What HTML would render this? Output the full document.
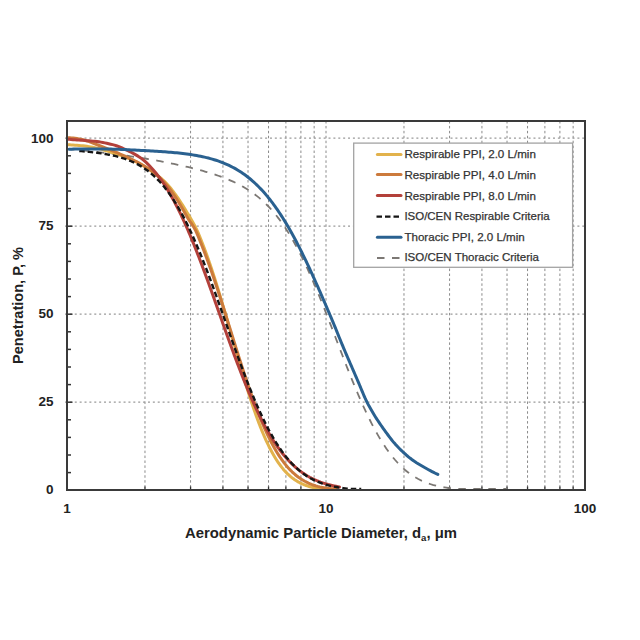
<!DOCTYPE html>
<html><head><meta charset="utf-8"><style>
html,body{margin:0;padding:0;background:#fff;}
svg{display:block;}
text{font-family:"Liberation Sans",sans-serif;}
</style></head><body>
<svg width="640" height="640" viewBox="0 0 640 640">
<rect width="640" height="640" fill="#fff"/>
<g stroke="#8a8a8a" stroke-width="1.0" stroke-dasharray="2.5 2.42" fill="none">
<line x1="144.97" y1="121" x2="144.97" y2="489" />
<line x1="190.57" y1="121" x2="190.57" y2="489" />
<line x1="222.93" y1="121" x2="222.93" y2="489" />
<line x1="248.03" y1="121" x2="248.03" y2="489" />
<line x1="268.54" y1="121" x2="268.54" y2="489" />
<line x1="285.88" y1="121" x2="285.88" y2="489" />
<line x1="300.90" y1="121" x2="300.90" y2="489" />
<line x1="314.15" y1="121" x2="314.15" y2="489" />
<line x1="326.00" y1="121" x2="326.00" y2="489" />
<line x1="403.97" y1="121" x2="403.97" y2="489" />
<line x1="449.57" y1="121" x2="449.57" y2="489" />
<line x1="481.93" y1="121" x2="481.93" y2="489" />
<line x1="507.03" y1="121" x2="507.03" y2="489" />
<line x1="527.54" y1="121" x2="527.54" y2="489" />
<line x1="544.88" y1="121" x2="544.88" y2="489" />
<line x1="559.90" y1="121" x2="559.90" y2="489" />
<line x1="573.15" y1="121" x2="573.15" y2="489" />
</g><g stroke="#999999" stroke-width="1.2" stroke-dasharray="2 2.88" fill="none">
<line x1="65" y1="402.20" x2="585" y2="402.20" />
<line x1="65" y1="314.20" x2="585" y2="314.20" />
<line x1="65" y1="226.20" x2="585" y2="226.20" />
<line x1="65" y1="138.20" x2="585" y2="138.20" />
</g>
<g stroke="#333" stroke-width="1.5">
<line x1="67" y1="472.60" x2="71" y2="472.60" />
<line x1="67" y1="455.00" x2="71" y2="455.00" />
<line x1="67" y1="437.40" x2="71" y2="437.40" />
<line x1="67" y1="419.80" x2="71" y2="419.80" />
<line x1="67" y1="402.20" x2="72.5" y2="402.20" />
<line x1="67" y1="384.60" x2="71" y2="384.60" />
<line x1="67" y1="367.00" x2="71" y2="367.00" />
<line x1="67" y1="349.40" x2="71" y2="349.40" />
<line x1="67" y1="331.80" x2="71" y2="331.80" />
<line x1="67" y1="314.20" x2="72.5" y2="314.20" />
<line x1="67" y1="296.60" x2="71" y2="296.60" />
<line x1="67" y1="279.00" x2="71" y2="279.00" />
<line x1="67" y1="261.40" x2="71" y2="261.40" />
<line x1="67" y1="243.80" x2="71" y2="243.80" />
<line x1="67" y1="226.20" x2="72.5" y2="226.20" />
<line x1="67" y1="208.60" x2="71" y2="208.60" />
<line x1="67" y1="191.00" x2="71" y2="191.00" />
<line x1="67" y1="173.40" x2="71" y2="173.40" />
<line x1="67" y1="155.80" x2="71" y2="155.80" />
<line x1="67" y1="138.20" x2="72.5" y2="138.20" />
<line x1="144.97" y1="490" x2="144.97" y2="486.5" stroke-width="1.3" />
<line x1="190.57" y1="490" x2="190.57" y2="486.5" stroke-width="1.3" />
<line x1="222.93" y1="490" x2="222.93" y2="486.5" stroke-width="1.3" />
<line x1="248.03" y1="490" x2="248.03" y2="486.5" stroke-width="1.3" />
<line x1="268.54" y1="490" x2="268.54" y2="486.5" stroke-width="1.3" />
<line x1="285.88" y1="490" x2="285.88" y2="486.5" stroke-width="1.3" />
<line x1="300.90" y1="490" x2="300.90" y2="486.5" stroke-width="1.3" />
<line x1="314.15" y1="490" x2="314.15" y2="486.5" stroke-width="1.3" />
<line x1="326.00" y1="490" x2="326.00" y2="486.5" stroke-width="1.3" />
<line x1="403.97" y1="490" x2="403.97" y2="486.5" stroke-width="1.3" />
<line x1="449.57" y1="490" x2="449.57" y2="486.5" stroke-width="1.3" />
<line x1="481.93" y1="490" x2="481.93" y2="486.5" stroke-width="1.3" />
<line x1="507.03" y1="490" x2="507.03" y2="486.5" stroke-width="1.3" />
<line x1="527.54" y1="490" x2="527.54" y2="486.5" stroke-width="1.3" />
<line x1="544.88" y1="490" x2="544.88" y2="486.5" stroke-width="1.3" />
<line x1="559.90" y1="490" x2="559.90" y2="486.5" stroke-width="1.3" />
<line x1="573.15" y1="490" x2="573.15" y2="486.5" stroke-width="1.3" />
</g>
<g fill="none" stroke-linecap="round" stroke-linejoin="round">
<path d="M67.00,148.97 L68.99,149.15 L70.98,149.32 L72.98,149.51 L74.97,149.69 L76.96,149.88 L78.95,150.07 L80.94,150.26 L82.93,150.46 L84.92,150.66 L86.91,150.86 L88.90,151.07 L90.89,151.28 L92.88,151.49 L94.87,151.71 L96.85,151.93 L98.84,152.15 L100.83,152.38 L102.81,152.61 L104.80,152.85 L106.79,153.09 L108.77,153.33 L110.76,153.58 L112.74,153.83 L114.72,154.08 L116.71,154.34 L118.69,154.61 L120.67,154.87 L122.65,155.15 L124.63,155.42 L126.61,155.70 L128.59,155.99 L130.57,156.28 L132.55,156.57 L134.53,156.87 L136.50,157.17 L138.48,157.48 L140.46,157.79 L142.43,158.11 L144.40,158.43 L146.38,158.76 L148.35,159.09 L150.32,159.43 L152.29,159.78 L154.26,160.13 L156.23,160.48 L158.20,160.84 L160.16,161.20 L162.13,161.57 L164.09,161.95 L166.06,162.33 L168.02,162.72 L169.98,163.12 L171.94,163.52 L173.90,163.93 L175.85,164.34 L177.81,164.76 L179.76,165.19 L181.71,165.62 L183.66,166.07 L185.61,166.52 L187.56,166.98 L189.50,167.44 L191.45,167.92 L193.39,168.40 L195.32,168.90 L197.26,169.40 L199.19,169.91 L201.12,170.44 L203.05,170.97 L204.97,171.52 L206.89,172.08 L208.81,172.65 L210.72,173.24 L212.63,173.84 L214.53,174.45 L216.43,175.09 L218.32,175.74 L220.21,176.41 L222.09,177.09 L223.96,177.80 L225.82,178.53 L227.67,179.28 L229.52,180.05 L231.35,180.84 L233.18,181.66 L234.99,182.51 L236.79,183.38 L238.57,184.28 L240.35,185.21 L242.10,186.17 L243.84,187.15 L245.56,188.17 L247.27,189.22 L248.95,190.30 L250.62,191.41 L252.26,192.54 L253.88,193.71 L255.49,194.91 L257.07,196.14 L258.62,197.39 L260.16,198.68 L261.66,199.99 L263.15,201.33 L264.61,202.70 L266.05,204.09 L267.46,205.50 L268.85,206.94 L270.22,208.40 L271.56,209.88 L272.88,211.38 L274.18,212.91 L275.46,214.44 L276.71,216.00 L277.94,217.58 L279.16,219.17 L280.35,220.77 L281.52,222.39 L282.68,224.02 L283.82,225.67 L284.93,227.33 L286.04,228.99 L287.12,230.68 L288.19,232.36 L289.24,234.06 L290.28,235.77 L291.31,237.49 L292.32,239.22 L293.32,240.95 L294.30,242.69 L295.27,244.44 L296.23,246.20 L297.18,247.95 L298.11,249.72 L299.04,251.49 L299.95,253.28 L300.86,255.06 L301.75,256.85 L302.65,258.64 L303.52,260.44 L304.39,262.24 L305.25,264.04 L306.10,265.85 L306.95,267.67 L307.78,269.48 L308.62,271.30 L309.44,273.12 L310.26,274.95 L311.07,276.78 L311.88,278.61 L312.67,280.44 L313.47,282.28 L314.25,284.11 L315.04,285.95 L315.82,287.80 L316.59,289.64 L317.36,291.49 L318.13,293.33 L318.89,295.18 L319.65,297.03 L320.40,298.89 L321.15,300.74 L321.90,302.60 L322.64,304.45 L323.39,306.31 L324.12,308.17 L324.86,310.03 L325.59,311.89 L326.33,313.75 L327.06,315.61 L327.78,317.47 L328.51,319.34 L329.23,321.20 L329.96,323.07 L330.68,324.93 L331.40,326.80 L332.12,328.66 L332.84,330.53 L333.56,332.40 L334.27,334.26 L334.99,336.13 L335.71,338.00 L336.42,339.86 L337.14,341.73 L337.86,343.60 L338.57,345.47 L339.29,347.33 L340.01,349.20 L340.73,351.07 L341.45,352.93 L342.17,354.80 L342.89,356.66 L343.61,358.53 L344.34,360.39 L345.06,362.25 L345.79,364.12 L346.52,365.98 L347.26,367.84 L347.99,369.70 L348.73,371.56 L349.47,373.42 L350.21,375.27 L350.96,377.13 L351.71,378.98 L352.46,380.84 L353.22,382.69 L353.98,384.54 L354.74,386.39 L355.51,388.23 L356.28,390.08 L357.06,391.92 L357.84,393.76 L358.64,395.60 L359.43,397.43 L360.23,399.27 L361.03,401.10 L361.84,402.93 L362.66,404.75 L363.49,406.57 L364.32,408.39 L365.16,410.21 L366.01,412.02 L366.86,413.82 L367.73,415.63 L368.60,417.43 L369.49,419.22 L370.38,421.01 L371.28,422.79 L372.20,424.57 L373.12,426.35 L374.06,428.11 L375.01,429.87 L375.97,431.63 L376.95,433.37 L377.93,435.11 L378.94,436.84 L379.95,438.56 L381.00,440.27 L382.04,441.98 L383.12,443.66 L384.20,445.34 L385.31,447.01 L386.44,448.66 L387.58,450.30 L388.75,451.92 L389.94,453.53 L391.15,455.12 L392.40,456.69 L393.66,458.23 L394.95,459.77 L396.27,461.27 L397.62,462.75 L398.99,464.20 L400.39,465.63 L401.83,467.02 L403.30,468.38 L404.79,469.70 L406.32,470.99 L407.88,472.24 L409.47,473.46 L411.10,474.62 L412.76,475.74 L414.44,476.81 L416.16,477.84 L417.90,478.82 L419.68,479.74 L421.47,480.62 L423.30,481.44 L425.14,482.22 L427.00,482.94 L428.89,483.62 L430.79,484.24 L432.70,484.82 L434.63,485.35 L436.57,485.84 L438.52,486.29 L440.47,486.70 L442.44,487.08 L444.41,487.42 L446.38,487.72 L448.37,488.00 L450.35,488.25 L452.34,488.48 L454.33,488.68 L456.32,488.86 L458.31,488.90 L460.31,488.90 L462.30,488.90 L464.30,488.90 L466.30,488.90 L468.30,488.90 L470.29,488.90 L472.29,488.90 L474.29,488.90 L476.29,488.90 L478.29,488.90 L480.29,488.90 L482.29,488.90 L484.29,488.90 L486.29,488.90 L488.29,488.90 L490.29,488.90 L492.29,488.90 L494.29,488.90 L496.29,488.90 L498.29,488.90 L500.29,488.90 L502.29,488.90 L504.29,488.90 L506.29,488.90" stroke="#7C7874" stroke-width="1.8" stroke-dasharray="7.5 7.5" stroke-linecap="butt"/>
<path d="M68.59,144.77 L69.79,144.83 L71.33,144.91 L73.11,145.01 L75.02,145.14 L76.99,145.29 L78.98,145.45 L80.97,145.63 L82.95,145.84 L84.94,146.07 L86.92,146.32 L88.90,146.61 L90.88,146.92 L92.84,147.27 L94.80,147.66 L96.75,148.10 L98.69,148.58 L100.62,149.10 L102.54,149.65 L104.45,150.23 L106.36,150.83 L108.27,151.43 L110.18,152.03 L112.09,152.62 L114.00,153.22 L115.91,153.81 L117.81,154.42 L119.71,155.04 L121.61,155.68 L123.49,156.34 L125.37,157.04 L127.23,157.77 L129.07,158.54 L130.90,159.34 L132.72,160.17 L134.52,161.04 L136.31,161.93 L138.09,162.85 L139.85,163.80 L141.59,164.77 L143.32,165.78 L145.03,166.82 L146.72,167.88 L148.39,168.97 L150.05,170.09 L151.70,171.22 L153.34,172.37 L154.96,173.54 L156.56,174.73 L158.14,175.95 L159.70,177.21 L161.23,178.49 L162.73,179.81 L164.19,181.17 L165.61,182.58 L166.99,184.02 L168.33,185.50 L169.64,187.01 L170.91,188.55 L172.16,190.11 L173.38,191.69 L174.58,193.29 L175.75,194.91 L176.91,196.54 L178.05,198.18 L179.16,199.84 L180.26,201.51 L181.35,203.20 L182.42,204.88 L183.48,206.58 L184.54,208.28 L185.59,209.98 L186.63,211.68 L187.66,213.40 L188.68,215.12 L189.70,216.84 L190.70,218.57 L191.69,220.31 L192.69,222.04 L193.67,223.78 L194.63,225.53 L195.56,227.30 L196.44,229.09 L197.28,230.90 L198.09,232.73 L198.87,234.57 L199.63,236.42 L200.39,238.27 L201.13,240.13 L201.87,241.99 L202.61,243.85 L203.33,245.71 L204.04,247.58 L204.75,249.45 L205.44,251.33 L206.13,253.20 L206.81,255.08 L207.49,256.97 L208.15,258.85 L208.82,260.74 L209.47,262.63 L210.12,264.52 L210.76,266.42 L211.39,268.31 L212.03,270.21 L212.65,272.11 L213.27,274.01 L213.89,275.92 L214.50,277.82 L215.10,279.73 L215.71,281.63 L216.31,283.54 L216.90,285.45 L217.49,287.36 L218.08,289.27 L218.66,291.19 L219.25,293.10 L219.82,295.01 L220.40,296.93 L220.97,298.84 L221.54,300.76 L222.11,302.68 L222.68,304.60 L223.24,306.52 L223.80,308.44 L224.36,310.36 L224.92,312.28 L225.48,314.20 L226.04,316.12 L226.59,318.04 L227.14,319.96 L227.69,321.88 L228.25,323.81 L228.80,325.73 L229.34,327.65 L229.89,329.58 L230.44,331.50 L230.99,333.42 L231.54,335.35 L232.09,337.27 L232.63,339.19 L233.18,341.12 L233.73,343.04 L234.28,344.96 L234.83,346.89 L235.38,348.81 L235.93,350.73 L236.48,352.65 L237.03,354.58 L237.59,356.50 L238.14,358.42 L238.70,360.34 L239.25,362.26 L239.81,364.18 L240.37,366.10 L240.94,368.02 L241.50,369.94 L242.07,371.86 L242.64,373.77 L243.21,375.69 L243.79,377.61 L244.36,379.52 L244.94,381.44 L245.53,383.35 L246.12,385.26 L246.71,387.17 L247.30,389.08 L247.90,390.99 L248.50,392.90 L249.11,394.80 L249.72,396.70 L250.34,398.61 L250.96,400.51 L251.59,402.41 L252.22,404.30 L252.86,406.20 L253.50,408.09 L254.16,409.98 L254.82,411.87 L255.48,413.76 L256.15,415.64 L256.84,417.52 L257.53,419.40 L258.22,421.27 L258.93,423.14 L259.65,425.01 L260.38,426.87 L261.12,428.73 L261.87,430.58 L262.63,432.43 L263.40,434.28 L264.19,436.11 L264.99,437.95 L265.81,439.77 L266.64,441.59 L267.49,443.40 L268.36,445.20 L269.24,446.99 L270.15,448.78 L271.08,450.55 L272.03,452.31 L273.00,454.06 L274.00,455.79 L275.02,457.50 L276.07,459.20 L277.15,460.88 L278.27,462.54 L279.42,464.18 L280.60,465.79 L281.82,467.37 L283.08,468.92 L284.38,470.43 L285.72,471.91 L287.11,473.34 L288.55,474.73 L290.03,476.07 L291.56,477.35 L293.13,478.57 L294.75,479.73 L296.42,480.82 L298.13,481.85 L299.88,482.80 L301.67,483.67 L303.49,484.48 L305.35,485.21 L307.23,485.87 L309.14,486.47 L311.06,486.99 L313.00,487.46 L314.95,487.87 L316.92,488.23 L318.89,488.54 L320.87,488.81 L322.86,488.90 L324.85,488.90 L326.83,488.90 L328.81,488.90 L330.74,488.90 L332.57,488.90 L334.18,488.90 L335.47,488.90" stroke="#E2B24C" stroke-width="3"/>
<path d="M68.59,137.68 L69.78,137.77 L71.32,137.90 L73.09,138.08 L74.99,138.32 L76.94,138.60 L78.91,138.93 L80.87,139.31 L82.81,139.74 L84.74,140.24 L86.65,140.82 L88.54,141.45 L90.42,142.13 L92.29,142.84 L94.16,143.56 L96.02,144.29 L97.89,145.01 L99.75,145.73 L101.61,146.45 L103.48,147.19 L105.34,147.92 L107.19,148.67 L109.05,149.41 L110.90,150.17 L112.75,150.93 L114.60,151.69 L116.44,152.46 L118.29,153.24 L120.12,154.03 L121.96,154.82 L123.79,155.63 L125.61,156.45 L127.43,157.28 L129.25,158.12 L131.05,158.98 L132.85,159.85 L134.64,160.74 L136.42,161.65 L138.19,162.58 L139.94,163.55 L141.68,164.53 L143.40,165.55 L145.10,166.60 L146.78,167.69 L148.44,168.80 L150.08,169.95 L151.69,171.12 L153.29,172.33 L154.86,173.56 L156.40,174.83 L157.92,176.13 L159.42,177.46 L160.88,178.82 L162.30,180.22 L163.69,181.65 L165.04,183.13 L166.34,184.64 L167.61,186.18 L168.84,187.76 L170.03,189.36 L171.20,190.98 L172.36,192.61 L173.49,194.26 L174.61,195.92 L175.71,197.59 L176.79,199.27 L177.86,200.96 L178.91,202.66 L179.94,204.37 L180.96,206.09 L181.96,207.82 L182.96,209.56 L183.94,211.30 L184.91,213.05 L185.88,214.79 L186.86,216.54 L187.86,218.26 L188.91,219.95 L190.01,221.60 L191.15,223.22 L192.29,224.84 L193.39,226.49 L194.41,228.19 L195.34,229.95 L196.21,231.74 L197.02,233.57 L197.79,235.41 L198.55,237.26 L199.29,239.11 L200.04,240.97 L200.78,242.83 L201.52,244.68 L202.26,246.54 L202.99,248.40 L203.72,250.27 L204.44,252.13 L205.15,254.00 L205.86,255.87 L206.55,257.75 L207.25,259.62 L207.94,261.50 L208.62,263.38 L209.30,265.26 L209.97,267.15 L210.63,269.03 L211.30,270.92 L211.96,272.81 L212.61,274.70 L213.26,276.59 L213.90,278.48 L214.55,280.38 L215.19,282.27 L215.82,284.17 L216.45,286.07 L217.08,287.97 L217.71,289.87 L218.33,291.77 L218.95,293.67 L219.57,295.57 L220.18,297.47 L220.80,299.38 L221.41,301.28 L222.02,303.18 L222.62,305.09 L223.23,307.00 L223.83,308.90 L224.44,310.81 L225.04,312.72 L225.64,314.63 L226.24,316.53 L226.84,318.44 L227.43,320.35 L228.03,322.26 L228.63,324.17 L229.22,326.08 L229.82,327.99 L230.41,329.90 L231.01,331.81 L231.60,333.72 L232.20,335.63 L232.79,337.54 L233.39,339.44 L233.98,341.35 L234.58,343.26 L235.17,345.17 L235.77,347.08 L236.37,348.99 L236.97,350.90 L237.57,352.80 L238.17,354.71 L238.78,356.62 L239.38,358.52 L239.99,360.43 L240.60,362.33 L241.21,364.24 L241.82,366.14 L242.44,368.05 L243.05,369.95 L243.67,371.85 L244.30,373.75 L244.92,375.65 L245.55,377.55 L246.18,379.45 L246.82,381.34 L247.46,383.24 L248.10,385.13 L248.75,387.02 L249.40,388.91 L250.05,390.80 L250.71,392.69 L251.38,394.58 L252.05,396.46 L252.72,398.35 L253.41,400.23 L254.09,402.10 L254.78,403.98 L255.48,405.85 L256.19,407.73 L256.90,409.59 L257.62,411.46 L258.35,413.32 L259.09,415.18 L259.83,417.04 L260.58,418.89 L261.35,420.74 L262.12,422.59 L262.90,424.43 L263.69,426.26 L264.50,428.09 L265.31,429.92 L266.14,431.74 L266.98,433.55 L267.84,435.36 L268.71,437.16 L269.59,438.95 L270.49,440.74 L271.41,442.52 L272.35,444.28 L273.30,446.04 L274.27,447.79 L275.27,449.52 L276.28,451.25 L277.32,452.95 L278.38,454.65 L279.47,456.32 L280.58,457.98 L281.73,459.62 L282.90,461.24 L284.10,462.84 L285.34,464.41 L286.61,465.95 L287.91,467.46 L289.26,468.94 L290.63,470.39 L292.05,471.79 L293.51,473.15 L295.01,474.47 L296.55,475.74 L298.13,476.96 L299.75,478.12 L301.42,479.22 L303.11,480.27 L304.85,481.25 L306.62,482.17 L308.42,483.03 L310.25,483.82 L312.11,484.55 L313.99,485.21 L315.89,485.82 L317.81,486.37 L319.75,486.86 L321.70,487.30 L323.66,487.69 L325.62,488.04 L327.59,488.35 L329.56,488.62 L331.50,488.85 L333.35,488.90 L335.02,488.90 L336.40,488.90" stroke="#CC7A3C" stroke-width="3"/>
<path d="M67.99,139.27 L69.29,139.36 L71.05,139.49 L72.99,139.63 L74.98,139.78 L76.97,139.92 L78.97,140.07 L80.96,140.22 L82.96,140.37 L84.95,140.51 L86.95,140.65 L88.94,140.79 L90.94,140.95 L92.93,141.12 L94.92,141.31 L96.90,141.55 L98.88,141.82 L100.86,142.14 L102.83,142.49 L104.79,142.88 L106.74,143.29 L108.70,143.72 L110.65,144.17 L112.59,144.64 L114.52,145.15 L116.43,145.73 L118.32,146.40 L120.17,147.15 L121.99,147.96 L123.81,148.80 L125.62,149.65 L127.43,150.50 L129.23,151.37 L131.02,152.26 L132.79,153.19 L134.55,154.14 L136.29,155.12 L138.00,156.15 L139.68,157.23 L141.31,158.38 L142.90,159.60 L144.43,160.88 L145.92,162.21 L147.37,163.59 L148.79,165.00 L150.17,166.44 L151.53,167.90 L152.87,169.39 L154.17,170.91 L155.45,172.45 L156.70,174.00 L157.93,175.58 L159.13,177.18 L160.32,178.79 L161.47,180.42 L162.61,182.07 L163.73,183.72 L164.83,185.39 L165.91,187.08 L166.97,188.77 L168.02,190.48 L169.04,192.19 L170.05,193.92 L171.05,195.65 L172.03,197.40 L173.00,199.15 L173.95,200.90 L174.90,202.67 L175.82,204.44 L176.74,206.22 L177.65,208.00 L178.54,209.79 L179.42,211.58 L180.30,213.38 L181.16,215.19 L182.01,216.99 L182.86,218.81 L183.69,220.62 L184.52,222.44 L185.34,224.27 L186.15,226.10 L186.96,227.93 L187.76,229.76 L188.55,231.60 L189.33,233.44 L190.11,235.28 L190.88,237.13 L191.65,238.97 L192.41,240.82 L193.16,242.68 L193.91,244.53 L194.66,246.39 L195.40,248.24 L196.13,250.10 L196.86,251.97 L197.59,253.83 L198.31,255.69 L199.03,257.56 L199.75,259.43 L200.46,261.30 L201.17,263.17 L201.87,265.04 L202.57,266.91 L203.27,268.78 L203.97,270.66 L204.66,272.54 L205.36,274.41 L206.04,276.29 L206.73,278.17 L207.42,280.05 L208.10,281.93 L208.78,283.81 L209.46,285.69 L210.13,287.57 L210.81,289.45 L211.49,291.34 L212.16,293.22 L212.83,295.10 L213.50,296.99 L214.17,298.87 L214.84,300.76 L215.51,302.64 L216.18,304.53 L216.84,306.41 L217.51,308.30 L218.18,310.18 L218.85,312.07 L219.51,313.95 L220.18,315.84 L220.85,317.73 L221.51,319.61 L222.18,321.50 L222.85,323.38 L223.52,325.27 L224.19,327.15 L224.86,329.03 L225.53,330.92 L226.20,332.80 L226.87,334.69 L227.55,336.57 L228.22,338.45 L228.90,340.33 L229.58,342.21 L230.26,344.09 L230.94,345.97 L231.63,347.85 L232.32,349.73 L233.00,351.61 L233.70,353.49 L234.39,355.36 L235.09,357.24 L235.79,359.11 L236.49,360.98 L237.19,362.85 L237.90,364.72 L238.61,366.59 L239.33,368.46 L240.05,370.33 L240.77,372.19 L241.50,374.06 L242.23,375.92 L242.96,377.78 L243.70,379.64 L244.45,381.49 L245.20,383.35 L245.95,385.20 L246.71,387.05 L247.48,388.90 L248.25,390.74 L249.03,392.58 L249.81,394.42 L250.60,396.26 L251.40,398.10 L252.20,399.93 L253.01,401.75 L253.83,403.58 L254.66,405.40 L255.49,407.22 L256.34,409.03 L257.19,410.84 L258.05,412.65 L258.92,414.45 L259.80,416.24 L260.69,418.03 L261.60,419.82 L262.51,421.60 L263.43,423.37 L264.37,425.14 L265.32,426.90 L266.28,428.65 L267.26,430.39 L268.25,432.13 L269.26,433.86 L270.28,435.58 L271.32,437.29 L272.37,438.99 L273.44,440.68 L274.53,442.35 L275.64,444.02 L276.76,445.67 L277.91,447.31 L279.08,448.93 L280.27,450.54 L281.48,452.13 L282.72,453.70 L283.98,455.25 L285.26,456.78 L286.58,458.29 L287.91,459.78 L289.28,461.24 L290.67,462.68 L292.09,464.08 L293.54,465.46 L295.02,466.80 L296.53,468.11 L298.07,469.39 L299.64,470.63 L301.24,471.83 L302.86,472.99 L304.52,474.11 L306.21,475.18 L307.92,476.21 L309.66,477.20 L311.42,478.14 L313.21,479.03 L315.02,479.88 L316.85,480.68 L318.70,481.43 L320.57,482.14 L322.46,482.80 L324.36,483.42 L326.27,484.00 L328.20,484.54 L330.14,485.03 L332.08,485.49 L334.04,485.92 L335.99,486.31 L337.88,486.66 L339.52,486.94" stroke="#B3403A" stroke-width="3"/>
<path d="M79.24,150.94 L81.24,151.11 L83.23,151.29 L85.22,151.48 L87.21,151.67 L89.20,151.88 L91.19,152.09 L93.18,152.32 L95.16,152.56 L97.15,152.81 L99.13,153.08 L101.11,153.36 L103.08,153.66 L105.06,153.99 L107.03,154.33 L108.99,154.70 L110.96,155.09 L112.91,155.50 L114.86,155.95 L116.80,156.42 L118.74,156.93 L120.66,157.47 L122.58,158.05 L124.48,158.67 L126.37,159.32 L128.24,160.02 L130.10,160.76 L131.94,161.54 L133.76,162.37 L135.56,163.24 L137.34,164.16 L139.10,165.12 L140.82,166.13 L142.53,167.18 L144.20,168.27 L145.84,169.41 L147.46,170.59 L149.05,171.80 L150.60,173.06 L152.13,174.35 L153.63,175.68 L155.09,177.04 L156.53,178.43 L157.94,179.85 L159.31,181.30 L160.67,182.78 L161.99,184.28 L163.28,185.80 L164.55,187.35 L165.79,188.91 L167.01,190.50 L168.21,192.10 L169.38,193.72 L170.53,195.36 L171.67,197.01 L172.78,198.67 L173.87,200.35 L174.94,202.03 L175.99,203.73 L177.03,205.45 L178.05,207.17 L179.05,208.90 L180.04,210.64 L181.01,212.38 L181.97,214.14 L182.92,215.90 L183.85,217.67 L184.77,219.45 L185.68,221.23 L186.57,223.01 L187.46,224.81 L188.33,226.61 L189.20,228.41 L190.05,230.22 L190.90,232.03 L191.73,233.85 L192.56,235.67 L193.38,237.49 L194.19,239.32 L194.99,241.15 L195.79,242.99 L196.58,244.83 L197.36,246.67 L198.14,248.51 L198.91,250.36 L199.67,252.20 L200.43,254.06 L201.18,255.91 L201.93,257.76 L202.67,259.62 L203.40,261.48 L204.13,263.34 L204.86,265.21 L205.59,267.07 L206.30,268.94 L207.02,270.80 L207.73,272.67 L208.44,274.54 L209.14,276.42 L209.84,278.29 L210.54,280.16 L211.24,282.04 L211.93,283.92 L212.62,285.79 L213.30,287.67 L213.99,289.55 L214.67,291.43 L215.35,293.31 L216.03,295.19 L216.71,297.07 L217.38,298.96 L218.05,300.84 L218.73,302.72 L219.40,304.61 L220.07,306.49 L220.74,308.38 L221.40,310.26 L222.07,312.15 L222.74,314.03 L223.40,315.92 L224.07,317.81 L224.73,319.69 L225.40,321.58 L226.06,323.47 L226.72,325.35 L227.39,327.24 L228.05,329.13 L228.72,331.01 L229.38,332.90 L230.05,334.78 L230.72,336.67 L231.39,338.55 L232.05,340.44 L232.72,342.32 L233.40,344.21 L234.07,346.09 L234.74,347.97 L235.42,349.86 L236.10,351.74 L236.78,353.62 L237.46,355.50 L238.14,357.38 L238.83,359.26 L239.51,361.14 L240.20,363.01 L240.90,364.89 L241.59,366.76 L242.29,368.64 L243.00,370.51 L243.70,372.38 L244.41,374.25 L245.12,376.12 L245.84,377.99 L246.56,379.85 L247.29,381.72 L248.02,383.58 L248.75,385.44 L249.49,387.30 L250.24,389.15 L250.99,391.01 L251.74,392.86 L252.50,394.71 L253.27,396.56 L254.04,398.40 L254.82,400.24 L255.61,402.08 L256.40,403.92 L257.20,405.75 L258.01,407.58 L258.83,409.40 L259.65,411.23 L260.49,413.04 L261.33,414.86 L262.18,416.67 L263.04,418.47 L263.91,420.27 L264.80,422.07 L265.69,423.86 L266.60,425.64 L267.52,427.41 L268.45,429.19 L269.39,430.95 L270.35,432.70 L271.32,434.45 L272.31,436.19 L273.31,437.92 L274.33,439.64 L275.36,441.35 L276.42,443.06 L277.49,444.74 L278.58,446.42 L279.69,448.08 L280.83,449.73 L281.98,451.36 L283.16,452.98 L284.36,454.58 L285.59,456.16 L286.84,457.72 L288.12,459.25 L289.42,460.77 L290.76,462.26 L292.12,463.72 L293.52,465.15 L294.94,466.56 L296.39,467.93 L297.88,469.27 L299.40,470.57 L300.95,471.83 L302.54,473.05 L304.15,474.23 L305.80,475.37 L307.48,476.45 L309.19,477.49 L310.92,478.48 L312.69,479.42 L314.48,480.31 L316.29,481.15 L318.13,481.94 L319.99,482.68 L321.87,483.37 L323.76,484.01 L325.67,484.60 L327.60,485.14 L329.53,485.65 L331.48,486.11 L333.43,486.53 L335.40,486.92 L337.37,487.27 L339.34,487.59 L341.32,487.88 L343.30,488.14 L345.29,488.37 L347.28,488.58 L349.27,488.77 L351.26,488.90 L353.26,488.90 L355.25,488.90 L357.25,488.90 L359.24,488.90 L361.24,488.90" stroke="#151515" stroke-width="2.4" stroke-dasharray="5.5 3" stroke-linecap="butt"/>
<path d="M68.99,149.17 L70.15,149.15 L71.60,149.14 L73.28,149.12 L75.11,149.10 L77.04,149.08 L79.01,149.06 L81.00,149.05 L83.00,149.04 L85.00,149.03 L87.00,149.02 L89.00,149.01 L91.00,149.01 L93.00,149.01 L95.00,149.00 L97.00,149.00 L99.00,149.01 L101.00,149.01 L103.00,149.02 L105.00,149.04 L107.00,149.06 L109.00,149.08 L111.00,149.12 L113.00,149.16 L115.00,149.21 L117.00,149.27 L118.99,149.34 L120.99,149.41 L122.99,149.50 L124.99,149.58 L126.99,149.68 L128.98,149.78 L130.98,149.88 L132.98,149.98 L134.98,150.08 L136.97,150.19 L138.97,150.29 L140.97,150.39 L142.97,150.49 L144.96,150.59 L146.96,150.70 L148.96,150.80 L150.95,150.92 L152.95,151.03 L154.95,151.15 L156.94,151.27 L158.94,151.40 L160.94,151.54 L162.93,151.68 L164.92,151.82 L166.92,151.97 L168.91,152.14 L170.91,152.30 L172.90,152.48 L174.89,152.67 L176.88,152.86 L178.87,153.07 L180.86,153.29 L182.84,153.52 L184.83,153.76 L186.81,154.02 L188.79,154.29 L190.77,154.58 L192.75,154.88 L194.72,155.20 L196.69,155.55 L198.65,155.91 L200.62,156.29 L202.57,156.70 L204.53,157.13 L206.47,157.59 L208.41,158.07 L210.34,158.58 L212.27,159.12 L214.18,159.69 L216.09,160.29 L217.98,160.92 L219.87,161.59 L221.74,162.29 L223.60,163.02 L225.44,163.79 L227.27,164.59 L229.08,165.43 L230.88,166.31 L232.66,167.22 L234.42,168.17 L236.15,169.15 L237.87,170.17 L239.57,171.22 L241.25,172.31 L242.90,173.43 L244.53,174.58 L246.14,175.76 L247.73,176.98 L249.29,178.22 L250.83,179.50 L252.34,180.80 L253.84,182.13 L255.31,183.48 L256.75,184.86 L258.18,186.26 L259.58,187.68 L260.96,189.13 L262.32,190.59 L263.66,192.07 L264.98,193.58 L266.28,195.10 L267.56,196.63 L268.82,198.18 L270.06,199.75 L271.29,201.33 L272.50,202.92 L273.69,204.53 L274.86,206.15 L276.02,207.78 L277.16,209.42 L278.29,211.07 L279.40,212.73 L280.50,214.40 L281.59,216.08 L282.66,217.77 L283.72,219.46 L284.77,221.16 L285.81,222.87 L286.83,224.59 L287.85,226.31 L288.85,228.04 L289.85,229.78 L290.83,231.52 L291.81,233.26 L292.77,235.02 L293.73,236.77 L294.68,238.53 L295.62,240.30 L296.55,242.07 L297.47,243.84 L298.39,245.62 L299.30,247.40 L300.21,249.18 L301.10,250.97 L301.99,252.76 L302.88,254.55 L303.76,256.35 L304.63,258.15 L305.50,259.95 L306.36,261.76 L307.22,263.56 L308.07,265.37 L308.92,267.18 L309.76,269.00 L310.60,270.81 L311.43,272.63 L312.26,274.45 L313.09,276.27 L313.92,278.09 L314.74,279.92 L315.55,281.74 L316.37,283.57 L317.18,285.40 L317.99,287.22 L318.79,289.06 L319.60,290.89 L320.40,292.72 L321.20,294.55 L322.00,296.39 L322.79,298.22 L323.59,300.06 L324.38,301.89 L325.17,303.73 L325.96,305.57 L326.74,307.41 L327.53,309.25 L328.32,311.08 L329.10,312.92 L329.89,314.76 L330.67,316.61 L331.45,318.45 L332.23,320.29 L333.00,322.13 L333.77,323.98 L334.53,325.83 L335.29,327.68 L336.05,329.53 L336.80,331.38 L337.55,333.24 L338.29,335.09 L339.04,336.95 L339.79,338.80 L340.55,340.65 L341.31,342.50 L342.07,344.35 L342.84,346.20 L343.62,348.04 L344.40,349.88 L345.18,351.72 L345.97,353.56 L346.76,355.40 L347.55,357.23 L348.35,359.07 L349.15,360.90 L349.94,362.74 L350.74,364.57 L351.54,366.41 L352.33,368.24 L353.13,370.08 L353.92,371.91 L354.71,373.75 L355.50,375.59 L356.29,377.42 L357.09,379.26 L357.88,381.10 L358.66,382.94 L359.45,384.77 L360.23,386.62 L361.00,388.46 L361.77,390.31 L362.54,392.15 L363.30,394.00 L364.08,395.84 L364.87,397.68 L365.70,399.49 L366.56,401.30 L367.46,403.08 L368.39,404.84 L369.36,406.59 L370.34,408.33 L371.34,410.06 L372.35,411.79 L373.37,413.51 L374.41,415.22 L375.46,416.92 L376.52,418.61 L377.61,420.29 L378.72,421.95 L379.85,423.60 L380.99,425.24 L382.14,426.88 L383.30,428.51 L384.47,430.13 L385.64,431.76 L386.81,433.38 L387.99,434.99 L389.18,436.60 L390.38,438.20 L391.60,439.78 L392.85,441.33 L394.13,442.86 L395.45,444.36 L396.80,445.82 L398.19,447.26 L399.59,448.68 L401.01,450.09 L402.45,451.48 L403.90,452.85 L405.38,454.20 L406.87,455.52 L408.40,456.81 L409.95,458.06 L411.54,459.28 L413.15,460.45 L414.79,461.59 L416.46,462.69 L418.15,463.75 L419.86,464.79 L421.58,465.80 L423.31,466.80 L425.05,467.78 L426.80,468.76 L428.54,469.73 L430.28,470.68 L432.00,471.60 L433.68,472.46 L435.26,473.25 L436.67,473.93 L437.86,474.48" stroke="#2A6190" stroke-width="3"/>
</g>
<rect x="67" y="121" width="518" height="369" fill="none" stroke="#3a3a3a" stroke-width="2"/>
<rect x="353.7" y="143.1" width="218.9" height="124.2" fill="#fff" stroke="#a3a3a3" stroke-width="1.3"/>
<g stroke-width="3" fill="none">
<line x1="377.4" y1="154.4" x2="401" y2="154.4" stroke="#E2B24C" stroke-linecap="round"/>
<line x1="377.4" y1="174.6" x2="401" y2="174.6" stroke="#CC7A3C" stroke-linecap="round"/>
<line x1="377.4" y1="195.6" x2="401" y2="195.6" stroke="#B3403A" stroke-linecap="round"/>
<line x1="376.5" y1="216.6" x2="400" y2="216.6" stroke="#151515" stroke-width="2.4" stroke-dasharray="5.5 3"/>
<line x1="377.4" y1="237.2" x2="401" y2="237.2" stroke="#2A6190" stroke-linecap="round"/>
<line x1="377" y1="258.1" x2="400" y2="258.1" stroke="#7C7874" stroke-width="2" stroke-dasharray="7.5 7.5"/>
</g>
<g font-size="11.5" fill="#333" stroke="#333" stroke-width="0.25">
<text x="404.4" y="158.3" textLength="131.5" lengthAdjust="spacingAndGlyphs">Respirable PPI, 2.0 L/min</text>
<text x="404.4" y="178.9" textLength="131.5" lengthAdjust="spacingAndGlyphs">Respirable PPI, 4.0 L/min</text>
<text x="404.4" y="199.5" textLength="131.5" lengthAdjust="spacingAndGlyphs">Respirable PPI, 8.0 L/min</text>
<text x="404.4" y="220.2" textLength="145.3" lengthAdjust="spacingAndGlyphs">ISO/CEN Respirable Criteria</text>
<text x="404.4" y="240.8" textLength="120.4" lengthAdjust="spacingAndGlyphs">Thoracic PPI, 2.0 L/min</text>
<text x="404.4" y="261.4" textLength="134.6" lengthAdjust="spacingAndGlyphs">ISO/CEN Thoracic Criteria</text>
</g>
<g font-size="13.5" font-weight="bold" fill="#222" text-anchor="end">
<text x="53.6" y="142.7">100</text>
<text x="53.6" y="230.2">75</text>
<text x="53.6" y="318.4">50</text>
<text x="53.6" y="406.2">25</text>
<text x="53.6" y="493.9">0</text>
</g>
<g font-size="13.5" font-weight="bold" fill="#222" text-anchor="middle">
<text x="67" y="513.0">1</text>
<text x="326" y="513.0">10</text>
<text x="585" y="513.0">100</text>
</g>
<text x="185" y="538" font-size="14" font-weight="bold" fill="#222" textLength="272" lengthAdjust="spacingAndGlyphs">Aerodynamic Particle Diameter, d<tspan font-size="9" dy="2.5">a</tspan><tspan dy="-2.5">, μm</tspan></text>
<text transform="translate(23.2,305.5) rotate(-90)" font-size="14" font-weight="bold" fill="#222" text-anchor="middle" textLength="117" lengthAdjust="spacingAndGlyphs">Penetration, P, %</text>
</svg>
</body></html>
